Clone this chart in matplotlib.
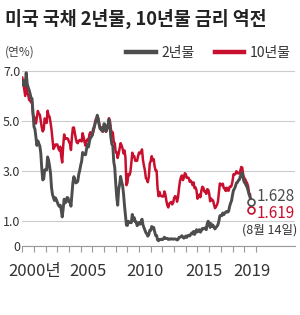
import numpy as np
import pandas as pd
import matplotlib
matplotlib.use("Agg")
import matplotlib.pyplot as plt
from matplotlib.lines import Line2D

plt.rcParams['font.family'] = ['Liberation Sans Narrow', 'Noto Sans CJK KR', 'DejaVu Sans']

# monthly yields (%), Jan 2000 - Aug 2019
yield_2y = [
    6.44, 6.61, 6.53, 6.40, 6.92, 6.48, 6.34, 6.23, 6.08, 5.91, 5.88, 5.35,  # 2000
    4.76, 4.66, 4.34, 4.01, 4.19, 4.08, 3.99, 3.70, 3.09, 2.63, 2.67, 3.03,  # 2001
    3.05, 3.03, 3.55, 3.42, 3.19, 2.91, 2.33, 2.05, 1.93, 1.81, 1.92, 1.84,  # 2002
    1.74, 1.63, 1.57, 1.62, 1.43, 1.15, 1.47, 1.86, 1.71, 1.75, 1.93, 1.91,  # 2003
    1.76, 1.74, 1.58, 2.07, 2.53, 2.76, 2.64, 2.51, 2.53, 2.58, 2.85, 3.01,  # 2004
    3.22, 3.38, 3.73, 3.65, 3.64, 3.64, 3.87, 4.04, 3.95, 4.17, 4.33, 4.35,  # 2005
    4.45, 4.68, 4.77, 4.90, 5.00, 5.22, 5.08, 4.82, 4.67, 4.69, 4.58, 4.68,  # 2006
    4.88, 4.85, 4.57, 4.67, 4.77, 5.05, 4.82, 4.34, 4.06, 3.99, 3.35, 3.12,  # 2007
    2.48, 1.97, 1.62, 2.25, 2.45, 2.77, 2.57, 2.42, 2.08, 1.61, 1.21, 0.82,  # 2008
    0.81, 0.98, 0.93, 0.93, 0.92, 1.25, 1.02, 1.12, 0.96, 0.95, 0.80, 0.87,  # 2009
    0.93, 0.86, 0.96, 1.06, 0.83, 0.72, 0.62, 0.52, 0.47, 0.38, 0.45, 0.62,  # 2010
    0.61, 0.77, 0.70, 0.73, 0.56, 0.41, 0.41, 0.23, 0.20, 0.25, 0.25, 0.26,  # 2011
    0.24, 0.28, 0.34, 0.29, 0.29, 0.29, 0.25, 0.27, 0.26, 0.28, 0.27, 0.26,  # 2012
    0.27, 0.27, 0.26, 0.23, 0.25, 0.33, 0.34, 0.36, 0.40, 0.34, 0.30, 0.34,  # 2013
    0.39, 0.33, 0.40, 0.42, 0.39, 0.45, 0.51, 0.47, 0.57, 0.45, 0.53, 0.64,  # 2014
    0.55, 0.62, 0.64, 0.54, 0.61, 0.69, 0.67, 0.70, 0.71, 0.64, 0.88, 0.98,  # 2015
    0.90, 0.73, 0.88, 0.77, 0.82, 0.73, 0.67, 0.74, 0.77, 0.84, 0.98, 1.20,  # 2016
    1.21, 1.20, 1.31, 1.24, 1.30, 1.34, 1.37, 1.34, 1.38, 1.57, 1.70, 1.80,  # 2017
    2.03, 2.22, 2.28, 2.38, 2.51, 2.53, 2.61, 2.64, 2.77, 2.86, 2.92, 2.68,  # 2018
    2.54, 2.50, 2.41, 2.34, 2.21, 2.05, 1.95, 1.74,                          # 2019
]
yield_10y = [
    6.72, 6.52, 6.26, 5.99, 6.44, 6.10, 6.05, 5.83, 5.80, 5.74, 5.72, 5.24,  # 2000
    5.16, 5.10, 4.89, 5.14, 5.39, 5.28, 5.24, 4.97, 4.73, 4.57, 4.65, 5.09,  # 2001
    5.04, 4.91, 5.40, 5.21, 5.16, 4.93, 4.65, 4.26, 3.87, 3.94, 4.05, 4.03,  # 2002
    4.05, 3.90, 3.81, 3.96, 3.57, 3.33, 3.98, 4.45, 4.27, 4.29, 4.30, 4.27,  # 2003
    4.15, 4.08, 3.83, 4.35, 4.72, 4.73, 4.50, 4.28, 4.13, 4.10, 4.19, 4.23,  # 2004
    4.22, 4.17, 4.50, 4.34, 4.14, 4.00, 4.18, 4.26, 4.20, 4.46, 4.54, 4.47,  # 2005
    4.42, 4.57, 4.72, 4.99, 5.11, 5.11, 5.09, 4.88, 4.72, 4.73, 4.60, 4.56,  # 2006
    4.76, 4.72, 4.56, 4.69, 4.75, 5.10, 5.00, 4.67, 4.52, 4.53, 4.15, 4.10,  # 2007
    3.74, 3.74, 3.51, 3.68, 3.88, 4.10, 4.01, 3.89, 3.69, 3.81, 3.53, 2.42,  # 2008
    2.52, 2.87, 2.82, 2.93, 3.29, 3.72, 3.56, 3.59, 3.40, 3.39, 3.40, 3.59,  # 2009
    3.73, 3.69, 3.73, 3.85, 3.42, 3.20, 3.01, 2.70, 2.65, 2.54, 2.76, 3.29,  # 2010
    3.39, 3.58, 3.41, 3.46, 3.17, 3.00, 3.00, 2.30, 1.98, 2.15, 2.01, 1.98,  # 2011
    1.97, 1.97, 2.17, 2.05, 1.80, 1.62, 1.53, 1.68, 1.72, 1.75, 1.65, 1.72,  # 2012
    1.91, 1.98, 1.96, 1.76, 1.93, 2.30, 2.58, 2.74, 2.81, 2.62, 2.72, 2.90,  # 2013
    2.86, 2.71, 2.72, 2.71, 2.56, 2.60, 2.54, 2.42, 2.53, 2.30, 2.33, 2.21,  # 2014
    1.88, 1.98, 2.04, 1.94, 2.20, 2.36, 2.32, 2.17, 2.17, 2.07, 2.26, 2.24,  # 2015
    2.09, 1.78, 1.89, 1.81, 1.81, 1.64, 1.50, 1.56, 1.63, 1.76, 2.14, 2.49,  # 2016
    2.43, 2.42, 2.48, 2.30, 2.30, 2.19, 2.32, 2.21, 2.20, 2.36, 2.35, 2.40,  # 2017
    2.58, 2.86, 2.84, 2.87, 2.98, 2.91, 2.89, 2.89, 3.00, 3.15, 3.12, 2.83,  # 2018
    2.71, 2.66, 2.57, 2.50, 2.38, 2.10, 2.06, 1.42,                          # 2019
]
last_2y = 1.628
last_10y = 1.619
last_date = '(8월 14일)'

tick_years = [2000, 2005, 2010, 2015, 2019]
tick_labels = ['2000년', '2005', '2010', '2015', '2019']
y_ticks = [0, 1, 3, 5, 7]
y_labels = ['0', '1.0', '3.0', '5.0', '7.0']

GRAY = '#4d4d4d'
RED = '#c8102e'

dates = pd.date_range('2000-01-01', periods=len(yield_2y), freq='MS')
t = dates.year + (dates.month - 1) / 12

fig = plt.figure(figsize=(3.0, 3.15), dpi=100)
ax = fig.add_axes([22.3 / 300, 69.3 / 315, 272.7 / 300, 185 / 315])

ax.plot(t, yield_10y, color=RED, lw=1.8, zorder=3,
        marker='o', markevery=[len(t) - 1], ms=5, mfc='white', mec=RED, mew=1.2)
ax.plot(t, yield_2y, color=GRAY, lw=2.1, zorder=4,
        marker='o', markevery=[len(t) - 1], ms=5, mfc='white', mec=GRAY, mew=1.2)

ax.set_xlim(2000, 2023.35)
ax.set_ylim(0, 7.4)

ax.set_yticks(y_ticks)
ax.set_yticklabels(y_labels)
ax.tick_params(axis='y', length=0, pad=1.5, labelsize=9, labelcolor='#333333')
ax.grid(axis='y', color='#cccccc', lw=0.8)
ax.set_axisbelow(True)

# labels sit a little right of each year's tick
label_offsets = [1.05, 0.65, 0.5, 0.55, 0.65]
ax.set_xticks([y + o for y, o in zip(tick_years, label_offsets)])
ax.set_xticklabels(tick_labels)
ax.set_xticks(range(2000, 2021), minor=True)
ax.tick_params(axis='x', which='major', length=0, pad=12.5, labelsize=12, labelcolor='#333333')
ax.tick_params(axis='x', which='minor', length=4.3, width=0.8, color='#999999', direction='out')

for s in ['top', 'right', 'left']:
    ax.spines[s].set_visible(False)
ax.spines['bottom'].set_color('#999999')
ax.spines['bottom'].set_linewidth(0.8)

ax.text(2020.1, 1.98, f'{last_2y:.3f}', color=GRAY, fontsize=11, va='center', ha='left')
ax.text(2020.1, 1.27, f'{last_10y:.3f}', color=RED, fontsize=11, va='center', ha='left')
ax.text(2018.8, 0.63, last_date, color='#333333', fontsize=9, va='center', ha='left')

fig.text(5 / 300, 1 - 19 / 315, '미국 국채 2년물, 10년물 금리 역전', fontsize=13.2,
         fontweight='bold', color='#222222', va='center', ha='left')
fig.text(5 / 300, 1 - 52 / 315, '(연%)', fontsize=8.5, color='#444444', va='center', ha='left')

handles = [Line2D([], [], color=GRAY, lw=3.2), Line2D([], [], color=RED, lw=3.2)]
fig.legend(handles, ['2년물', '10년물'], loc='center right', ncol=2,
           bbox_to_anchor=(291 / 300, 1 - 53 / 315), frameon=False, fontsize=10,
           handlelength=2.1, handletextpad=0.45, columnspacing=1.4,
           borderpad=0, borderaxespad=0, labelcolor='#333333')

fig.savefig('out.png', dpi=100, facecolor='white')
